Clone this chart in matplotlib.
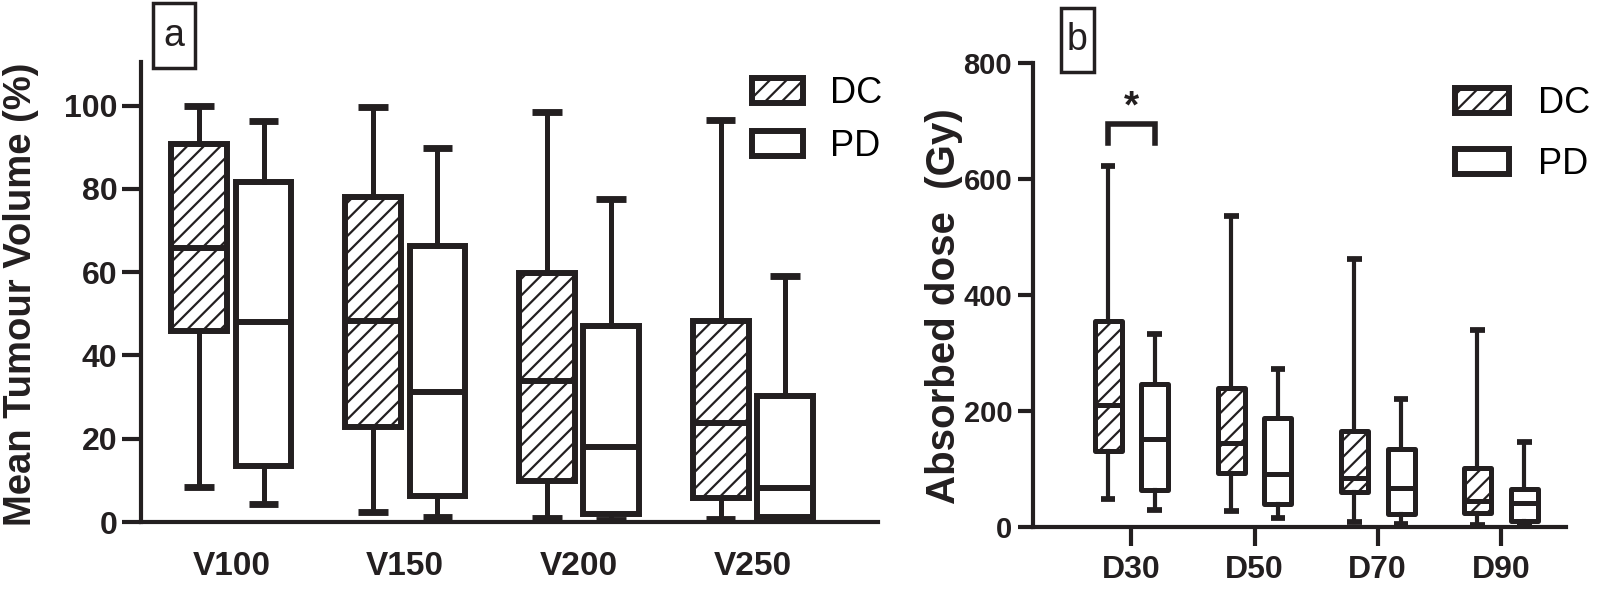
import numpy as np, matplotlib
matplotlib.use('Agg')
import matplotlib.pyplot as plt
from matplotlib.patches import Patch, Rectangle

plt.rcParams['font.family'] = ['Liberation Sans', 'DejaVu Sans']
plt.rcParams['hatch.linewidth'] = 1.6
plt.rcParams['hatch.color'] = '#231f20'
K = '#231f20'

# panel a: tumour volume receiving x% of dose
vol_cats = ['V100', 'V150', 'V200', 'V250']
vol_dc_lo = [8.5, 2.5, 1.0, 0.7]
vol_dc_q1 = [46.0, 22.8, 9.8, 5.8]
vol_dc_med = [65.9, 48.4, 33.8, 23.7]
vol_dc_q3 = [90.9, 78.0, 59.7, 48.2]
vol_dc_hi = [100.0, 99.7, 98.6, 96.6]
vol_pd_lo = [4.3, 1.3, 0.5, 0.3]
vol_pd_q1 = [13.5, 6.2, 1.9, 1.3]
vol_pd_med = [48.1, 31.2, 18.0, 8.2]
vol_pd_q3 = [81.7, 66.4, 47.2, 30.2]
vol_pd_hi = [96.4, 89.9, 77.7, 59.0]

# panel b: absorbed dose
dose_cats = ['D30', 'D50', 'D70', 'D90']
dose_dc_lo = [48, 27, 8, 3]
dose_dc_q1 = [131, 93, 61, 25]
dose_dc_med = [211, 145, 84, 45]
dose_dc_q3 = [356, 240, 166, 102]
dose_dc_hi = [622, 537, 462, 340]
dose_pd_lo = [29, 15, 5, 3]
dose_pd_q1 = [63, 40, 23, 10]
dose_pd_med = [151, 92, 68, 42]
dose_pd_q3 = [247, 188, 135, 65]
dose_pd_hi = [333, 272, 220, 147]


def stats(lo, q1, med, q3, hi):
    return [dict(whislo=a, q1=b, med=c, q3=d, whishi=e, fliers=[])
            for a, b, c, d, e in zip(lo, q1, med, q3, hi)]


def boxes(ax, st, pos, w, capw, hatch, lw, wlw, join):
    ax.bxp(st, positions=pos, widths=w, capwidths=capw, patch_artist=True,
           showfliers=False, manage_ticks=False,
           boxprops=dict(facecolor='white', edgecolor=K, linewidth=lw,
                         hatch=hatch, joinstyle=join),
           medianprops=dict(color=K, linewidth=lw, solid_capstyle='butt'),
           whiskerprops=dict(color=K, linewidth=wlw),
           capprops=dict(color=K, linewidth=lw * 1.15, solid_capstyle='butt'))


def style(ax):
    for s in ('top', 'right'):
        ax.spines[s].set_visible(False)
    for s in ('left', 'bottom'):
        ax.spines[s].set_linewidth(3)
        ax.spines[s].set_color(K)
    for t in ax.get_xticklabels() + ax.get_yticklabels():
        t.set_fontweight('bold')


fig = plt.figure(figsize=(16, 5.92), dpi=100)

# ---- panel a
axA = fig.add_axes([141 / 1600, 70 / 592, 737 / 1600, 460 / 592])
xa = np.arange(len(vol_cats))
boxes(axA, stats(vol_dc_lo, vol_dc_q1, vol_dc_med, vol_dc_q3, vol_dc_hi),
      xa - 0.185, 0.32, 0.17, '//', 4.3, 3.6, 'miter')
boxes(axA, stats(vol_pd_lo, vol_pd_q1, vol_pd_med, vol_pd_q3, vol_pd_hi),
      xa + 0.185, 0.32, 0.17, None, 4.3, 3.6, 'miter')
axA.set_xlim(-0.52, 3.72)
axA.set_ylim(0, 110.5)
axA.set_yticks(range(0, 101, 20))
axA.set_xticks(xa, vol_cats)
axA.tick_params(axis='x', length=0, pad=21, labelsize=24, colors=K)
axA.tick_params(axis='y', length=14, width=3, pad=3, labelsize=23, colors=K)
axA.set_ylabel('Mean Tumour Volume (%)', fontsize=27.5, fontweight='bold', color=K)
axA.yaxis.set_label_coords(-0.138, 0.495)
style(axA)
axA.legend([Patch(fc='white', ec=K, lw=4.3, hatch='//'), Patch(fc='white', ec=K, lw=4.3)],
           ['DC', 'PD'], loc='upper left', bbox_to_anchor=(752 / 1600, 1 - 76 / 592),
           bbox_transform=fig.transFigure, frameon=False, fontsize=26,
           handlelength=1.4, handleheight=0.7, handletextpad=0.75, labelspacing=0.5,
           borderpad=0, borderaxespad=0)

# ---- panel b
axB = fig.add_axes([1033 / 1600, 65 / 592, 533 / 1600, 464 / 592])
xb = np.arange(len(dose_cats))
boxes(axB, stats(dose_dc_lo, dose_dc_q1, dose_dc_med, dose_dc_q3, dose_dc_hi),
      xb - 0.19, 0.22, 0.12, '//', 3.6, 3.0, 'round')
boxes(axB, stats(dose_pd_lo, dose_pd_q1, dose_pd_med, dose_pd_q3, dose_pd_hi),
      xb + 0.19, 0.22, 0.12, None, 3.6, 3.0, 'round')
axB.set_xlim(-0.80, 3.53)
axB.set_ylim(0, 800)
axB.set_yticks(range(0, 801, 200))
axB.set_xticks(xb, dose_cats)
axB.tick_params(axis='x', length=14, width=3, pad=6, labelsize=23, colors=K)
axB.tick_params(axis='y', length=11, width=3, pad=4, labelsize=21, colors=K)
axB.set_ylabel('Absorbed dose  (Gy)', fontsize=29, fontweight='bold', color=K)
axB.yaxis.set_label_coords(-0.132, 0.476)
style(axB)
# significance bracket D30
axB.plot([-0.19, -0.19, 0.19, 0.19], [662, 694, 694, 662], color=K, lw=4,
         solid_joinstyle='miter')
axB.text(0.0, 692, '*', ha='center', va='bottom', fontsize=28, fontweight='bold', color=K)
axB.legend([Patch(fc='white', ec=K, lw=4.3, hatch='//'), Patch(fc='white', ec=K, lw=4.3)],
           ['DC', 'PD'], loc='upper left', bbox_to_anchor=(1455 / 1600, 1 - 86 / 592),
           bbox_transform=fig.transFigure, frameon=False, fontsize=26,
           handlelength=1.5, handleheight=0.7, handletextpad=0.8, labelspacing=0.72,
           borderpad=0, borderaxespad=0)

# panel tags
for x0, x1, y0, y1, lab in [(153, 195, 3, 68, 'a'), (1061, 1094, 8, 72, 'b')]:
    fig.patches.append(Rectangle((x0 / 1600, 1 - y1 / 592), (x1 - x0) / 1600, (y1 - y0) / 592,
                                 transform=fig.transFigure, fc='white', ec=K, lw=2.5))
    fig.text((x0 + x1) / 2 / 1600, 1 - (y0 + y1) / 2 / 592, lab, ha='center', va='center',
             fontsize=27, color=K)

fig.savefig('out.png', dpi=100, facecolor='white')
